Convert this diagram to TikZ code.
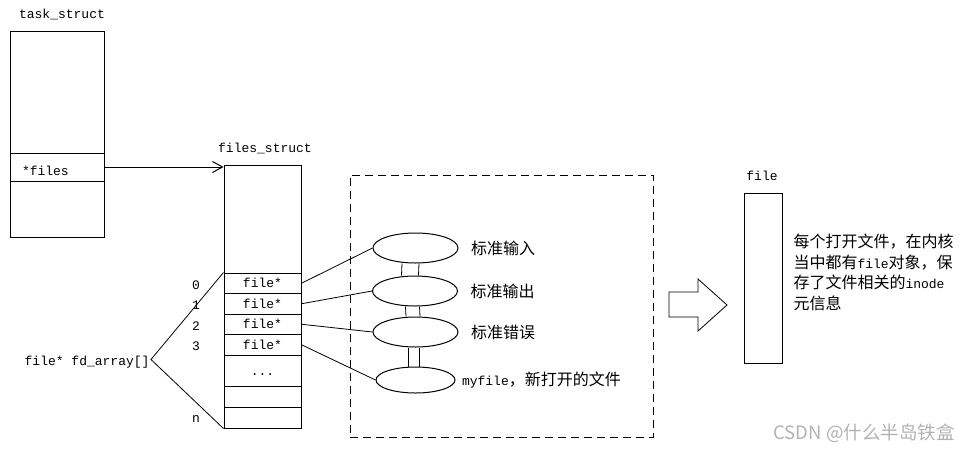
\documentclass[tikz,border=0pt]{standalone}
\usepackage{fontspec}
\setmainfont{Liberation Mono}
\newfontfamily\cjkfont{Noto Sans CJK SC}
\usetikzlibrary{positioning,shapes.geometric,arrows.meta}
\newcommand{\zh}[1]{{\cjkfont\fontsize{16}{20.5}\selectfont #1}}
\newcommand{\slotdots}{\raisebox{-5pt}[0pt][0pt]{...}}

\begin{document}
\begin{tikzpicture}[
  x=1pt,
  y=-1pt,
  line width=1pt,
  font=\fontsize{13}{20.5}\selectfont,
  struct box/.style={draw, inner sep=0pt, minimum width=#1},
  slot/.style={draw, inner sep=0pt, minimum width=77pt},
  open file/.style={draw, ellipse, inner sep=0pt},
  pointer/.style={-{Straight Barb[length=10pt,width=11pt]}},
  link/.style={line width=0.8pt}
]
  \useasboundingbox (0,0) rectangle (959,451);

  % task_struct
  \node (tasklabel) at (62,14) {task\_struct};
  \node[struct box=94pt, minimum height=206pt] (task) at (57,134) {};
  \node[struct box=94pt, minimum height=28pt] (taskfiles) at (57,167) {};
  \node[anchor=west, inner sep=0pt] (fileslabel) at ([xshift=12pt,yshift=-4pt]taskfiles.west) {*files};

  % files_struct
  \node (fslabel) at (265,148) {files\_struct};
  \node[struct box=77pt, minimum height=263pt] (fs) at (262.5,296.5) {};
  \foreach [count=\i from 0] \ymid/\h/\txt in {283.25/20.5pt/file*, 303.75/20.5pt/file*, 324.25/20.5pt/file*, 344.75/20.5pt/file*, 370.5/31pt/\slotdots, 396.5/21pt/{}, 417.5/21pt/{}} {
    \node[slot, minimum height=\h] (slot\i) at (262.5,\ymid) {\txt};
  }
  \foreach \i/\idx in {0/0, 1/1, 2/2, 3/3, 6/n} {
    \node (idx\i) at ([xshift=-66.5pt,yshift=-1.5pt]slot\i.center) {\idx};
  }
  \draw[pointer] (taskfiles.east) -- (taskfiles.east -| fs.west);

  % fd_array
  \node[anchor=east, inner sep=0pt] (fdarray) at (150,362.5) {file* fd\_array[]};
  \coordinate (fork) at ([shift={(1pt,3pt)}]fdarray.east);
  \draw[link] (slot0.north west) -- (fork) -- (slot6.south west);

  % open files
  \node[draw, dash pattern=on 8pt off 5pt, line width=0.8pt, minimum width=303pt, minimum height=262pt, inner sep=0pt] (kernel) at (501.5,306) {};
  \node[open file, minimum width=85pt, minimum height=30pt] (stdin) at (415.5,248) {};
  \node[open file, minimum width=85pt, minimum height=30pt] (stdout) at (415,291) {};
  \node[open file, minimum width=85pt, minimum height=30pt] (stderr) at (415.5,332) {};
  \node[open file, minimum width=79pt, minimum height=26pt] (myfile) at (415.5,380) {};
  \node[right=12pt of stdin, inner sep=0pt] (stdinlabel) {\zh{标准输入}};
  \node[right=12pt of stdout, inner sep=0pt] (stdoutlabel) {\zh{标准输出}};
  \node[right=12pt of stderr, inner sep=0pt] (stderrlabel) {\zh{标准错误}};
  \node[right=6pt of myfile, inner sep=0pt] (myfilelabel) {myfile\zh{，新打开的文件}};
  \foreach \s/\t in {0/stdin, 1/stdout, 2/stderr, 3/myfile} {
    \draw[link] (slot\s.east) -- (\t.west);
  }
  \foreach \a/\b/\l/\r in {stdin/stdout/-13.5pt/3.5pt, stdout/stderr/-9.5pt/4.5pt, stderr/myfile/-7.5pt/3.5pt} {
    \draw[link] ([xshift=\l]\a.south) -- ([xshift=\l]\b.north);
    \draw[link] ([xshift=\r]\a.south) -- ([xshift=\r]\b.north);
  }

  % file
  \draw[link] (669,292) -- (698,292) -- (698,279) -- (727,305) -- (698,331) -- (698,317) -- (669,317) -- cycle;
  \node (filelabel) at (762,176) {file};
  \node[struct box=38pt, minimum height=170pt] (filebox) at (763,278) {};
  \node[anchor=west, align=left, inner sep=0pt] (fileinfo) at (793,272.5) {\zh{每个打开文件，在内核}\\\zh{当中都有}file\zh{对象，保}\\\zh{存了文件相关的}inode\\\zh{元信息}};

  \node[anchor=east, text=black!30, font=\cjkfont\fontsize{18.5}{22}\selectfont, inner sep=0pt] (watermark) at (955,433) {CSDN @什么半岛铁盒};
\end{tikzpicture}
\end{document}
